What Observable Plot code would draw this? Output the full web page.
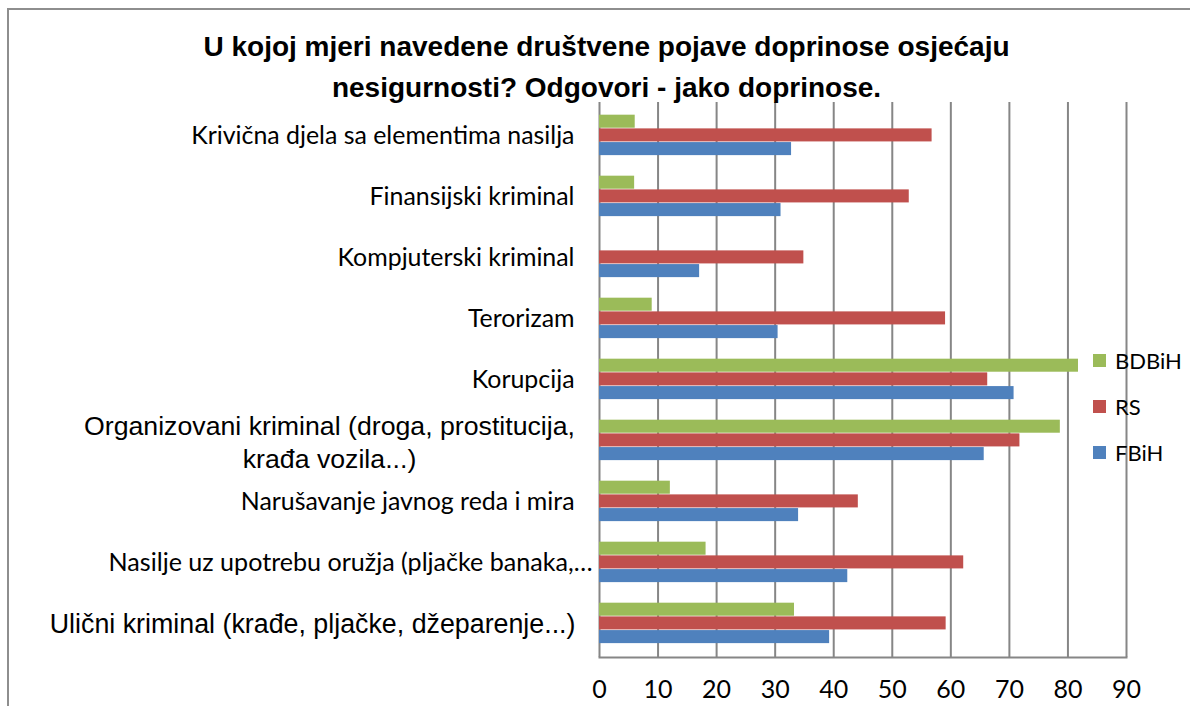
<!DOCTYPE html>
<html><head><meta charset="utf-8">
<script src="https://cdn.jsdelivr.net/npm/d3@7"></script>
<script src="https://cdn.jsdelivr.net/npm/@observablehq/plot@0.6"></script>
<style>
body{margin:0;background:#fff;overflow:hidden;}
#wrap{position:relative;width:1190px;height:706px;overflow:hidden;}
#border{position:absolute;left:7px;top:8px;width:1400px;height:900px;border:2px solid #8e8e8e;}
#title{position:absolute;left:0;width:1213px;top:26px;text-align:center;font-family:"Liberation Sans",Arial,sans-serif;font-weight:bold;font-size:28px;line-height:41px;color:#000;z-index:2;}
#chart{position:absolute;left:0;top:0;}
#legend{position:absolute;left:1093px;top:337px;font-family:Lato,sans-serif;font-size:22px;color:#000;z-index:2;}
.item{display:flex;align-items:center;height:46px;}
.sw{width:13px;height:13px;margin-right:9px;}
</style>
</head><body>
<div id="wrap">
<div id="border"></div>
<div id="chart"></div>
<div id="title">U kojoj mjeri navedene društvene pojave doprinose osjećaju<br>nesigurnosti? Odgovori - jako doprinose.</div>
<div id="legend"></div>
</div>
<script>
const categories = [
  "Krivična djela sa elementima nasilja",
  "Finansijski kriminal",
  "Kompjuterski kriminal",
  "Terorizam",
  "Korupcija",
  "Organizovani kriminal (droga, prostitucija,\nkrađa vozila...)",
  "Narušavanje javnog reda i mira",
  "Nasilje uz upotrebu oružja (pljačke banaka,…",
  "Ulični kriminal (krađe, pljačke, džeparenje...)"
];
const seriesNames = ["BDBiH", "RS", "FBiH"];
const bdbih = [6.1, 6.0, 0, 9.0, 81.8, 78.7, 12.1, 18.2, 33.3];
const rs    = [56.8, 52.9, 34.9, 59.1, 66.3, 71.8, 44.2, 62.2, 59.2];
const fbih  = [32.8, 31.0, 17.1, 30.5, 70.8, 65.7, 34.0, 42.4, 39.3];
const xTicks = [0, 10, 20, 30, 40, 50, 60, 70, 80, 90];
const colors = {BDBiH: "#9BBB59", RS: "#C0504D", FBiH: "#4F81BD"};

const rows = (vals) => categories.map((c, i) => ({cat: c, v: vals[i]}));
const dB = rows(bdbih), dR = rows(rs), dF = rows(fbih);

// label groups (font families differ in the original)
const calibriLabels = [0,1,2,3,4,6].map(i => ({cat: categories[i]}));
const arialLabels = [8].map(i => ({cat: categories[i]}));
const multiLabels = [5].map(i => ({cat: categories[i]}));
const nasiljeLabels = [7].map(i => ({cat: categories[i]}));

const W = 1190, H = 706;
const mT = 102, mB = 49;
const band = (H - mT - mB) / categories.length;
const barH = 13.7;
const g0 = (band - 3 * barH) / 2 - 0.6;
const ARIAL = "Liberation Sans, Arial, sans-serif";

const chart = Plot.plot({
  width: W, height: H,
  marginLeft: 599, marginRight: 64, marginTop: mT, marginBottom: mB,
  style: {background: "transparent", overflow: "visible"},
  x: {domain: [0, 90], ticks: xTicks, label: null},
  y: {domain: categories, padding: 0, axis: null},
  marks: [
    Plot.ruleX(xTicks, {stroke: "#868686", strokeWidth: 2}),
    Plot.frame({anchor: "bottom", stroke: "#868686", strokeWidth: 2}),
    Plot.barX(dB, {x: "v", y: "cat", fill: colors.BDBiH, insetTop: g0, insetBottom: band - g0 - barH}),
    Plot.barX(dR, {x: "v", y: "cat", fill: colors.RS, insetTop: g0 + barH, insetBottom: band - g0 - 2 * barH}),
    Plot.barX(dF, {x: "v", y: "cat", fill: colors.FBiH, insetTop: g0 + 2 * barH, insetBottom: band - g0 - 3 * barH}),
    Plot.axisX({ticks: xTicks, tickSize: 0, tickPadding: 23, fontSize: 25, fontFamily: "Lato", fill: "#000", label: null}),
    Plot.text(calibriLabels, {y: "cat", text: "cat", frameAnchor: "left", textAnchor: "end", dx: -25, fontSize: 24.9, fontFamily: "Lato", fill: "#000"}),
    Plot.text(nasiljeLabels, {y: "cat", text: "cat", frameAnchor: "left", textAnchor: "end", dx: -7, fontSize: 25.1, fontFamily: "Lato", fill: "#000"}),
    Plot.text(arialLabels, {y: "cat", text: "cat", frameAnchor: "left", textAnchor: "end", dx: -24, fontSize: 26.8, fontFamily: ARIAL, fill: "#000"}),
    Plot.text(multiLabels, {y: "cat", text: "cat", frameAnchor: "left", textAnchor: "middle", dx: -270, lineHeight: 1.24, fontSize: 26.7, fontFamily: ARIAL, fill: "#000"})
  ]
});
document.getElementById("chart").appendChild(chart);

const leg = document.getElementById("legend");
for (const s of seriesNames) {
  const it = document.createElement("div");
  it.className = "item";
  it.innerHTML = `<span class="sw" style="background:${colors[s]}"></span><span>${s}</span>`;
  leg.appendChild(it);
}
</script>
</body></html>
